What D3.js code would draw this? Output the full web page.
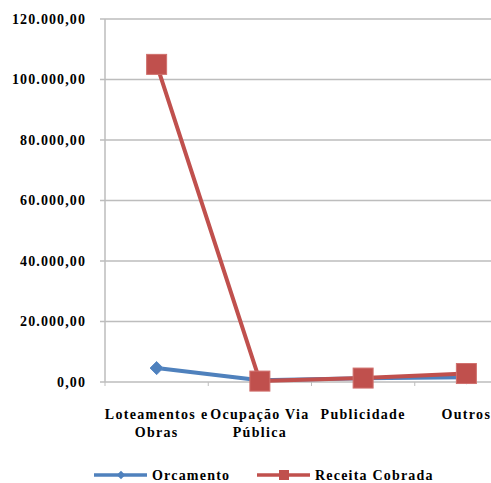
<!DOCTYPE html>
<html>
<head>
<meta charset="utf-8">
<script src="https://cdn.jsdelivr.net/npm/d3@7"></script>
<style>
  html, body { margin: 0; padding: 0; background: #ffffff; }
  svg { display: block; }
  svg text { font-family: "Liberation Serif", "DejaVu Serif Condensed", "DejaVu Serif", serif; font-weight: 700; }
</style>
</head>
<body>
<svg id="chart" width="491" height="483"></svg>
<script>
// Receitas por categoria: orçamento vs. receita cobrada
const categories = ["Loteamentos e Obras", "Ocupação Via Pública", "Publicidade", "Outros"];
const categoryLines = [["Loteamentos e", "Obras"], ["Ocupação Via", "Pública"], ["Publicidade"], ["Outros"]];
const orcamento = [4600, 600, 1200, 1600];
const receitaCobrada = [105000, 300, 1300, 2800];
const yTicks = [0, 20000, 40000, 60000, 80000, 100000, 120000];
const seriesNames = ["Orcamento", "Receita Cobrada"];
const seriesColors = ["#4f81bd", "#c0504d"];

const svg = d3.select("#chart");
const plot = { left: 105, right: 518, top: 19, bottom: 382 };

const x = d3.scaleBand().domain(categories).range([plot.left, plot.right]);
const y = d3.scaleLinear().domain([0, 120000]).range([plot.bottom, plot.top]);

const fmt = v => {
  const s = d3.format(",.2f")(v);
  return s.replace(/,/g, "#").replace(".", ",").replace(/#/g, ".");
};

// horizontal gridlines
svg.append("g").selectAll("line").data(yTicks).join("line")
  .attr("x1", plot.left - 5).attr("x2", plot.right)
  .attr("y1", d => y(d)).attr("y2", d => y(d))
  .attr("stroke", "#bdbdbd").attr("stroke-width", 1.5);

// value axis line
svg.append("line")
  .attr("x1", plot.left).attr("x2", plot.left)
  .attr("y1", y(120000)).attr("y2", plot.bottom)
  .attr("stroke", "#bdbdbd").attr("stroke-width", 1.5);

// category axis tick marks
svg.append("g").selectAll("line").data(categories).join("line")
  .attr("x1", d => x(d)).attr("x2", d => x(d))
  .attr("y1", plot.bottom).attr("y2", plot.bottom + 4)
  .attr("stroke", "#bdbdbd").attr("stroke-width", 1);

// y tick labels
svg.append("g").selectAll("text").data(yTicks).join("text")
  .attr("x", 86).attr("y", d => y(d)).attr("dy", "0.35em")
  .attr("text-anchor", "end")
  .attr("font-size", 14).attr("letter-spacing", 1.1)
  .attr("fill", "#000")
  .text(d => fmt(d));

// category labels
const catG = svg.append("g").selectAll("text").data(categories).join("text")
  .attr("text-anchor", "middle")
  .attr("font-size", 14).attr("letter-spacing", 1.3)
  .attr("fill", "#000");
catG.each(function(d, i) {
  const t = d3.select(this);
  categoryLines[i].forEach((ln, j) => {
    t.append("tspan")
      .attr("x", x(d) + x.bandwidth() / 2)
      .attr("y", 419 + j * 18)
      .text(ln);
  });
});

const cx = d => x(d) + x.bandwidth() / 2;
const line = d3.line().x((d, i) => cx(categories[i])).y(d => y(d));

// Orcamento series
svg.append("path").datum(orcamento)
  .attr("d", line).attr("fill", "none")
  .attr("stroke", seriesColors[0]).attr("stroke-width", 4)
  .attr("stroke-linejoin", "round");
svg.append("g").selectAll("path").data(orcamento).join("path")
  .attr("d", d3.symbol().type(d3.symbolDiamond2).size(110))
  .attr("transform", (d, i) => `translate(${cx(categories[i])},${y(d)})`)
  .attr("fill", seriesColors[0]).attr("stroke", "#5a8ac6").attr("stroke-width", 1);

// Receita Cobrada series
svg.append("path").datum(receitaCobrada)
  .attr("d", line).attr("fill", "none")
  .attr("stroke", seriesColors[1]).attr("stroke-width", 4)
  .attr("stroke-linejoin", "round");
svg.append("g").selectAll("rect").data(receitaCobrada).join("rect")
  .attr("x", (d, i) => cx(categories[i]) - 10)
  .attr("y", d => y(d) - 10)
  .attr("width", 20).attr("height", 20)
  .attr("fill", seriesColors[1]).attr("stroke", "#d0706d").attr("stroke-width", 1);

// legend
const legend = svg.append("g");
const legendItems = [
  { name: seriesNames[0], color: seriesColors[0], x0: 94, marker: "diamond" },
  { name: seriesNames[1], color: seriesColors[1], x0: 257, marker: "square" }
];
legendItems.forEach(it => {
  const ly = 475;
  legend.append("line")
    .attr("x1", it.x0).attr("x2", it.x0 + 53)
    .attr("y1", ly).attr("y2", ly)
    .attr("stroke", it.color).attr("stroke-width", 3.5);
  if (it.marker === "diamond") {
    legend.append("path")
      .attr("d", d3.symbol().type(d3.symbolDiamond2).size(45))
      .attr("transform", `translate(${it.x0 + 27},${ly})`)
      .attr("fill", it.color);
  } else {
    legend.append("rect")
      .attr("x", it.x0 + 22).attr("y", ly - 5)
      .attr("width", 10).attr("height", 10)
      .attr("fill", it.color);
  }
  legend.append("text")
    .attr("x", it.x0 + 58).attr("y", ly).attr("dy", "0.35em")
    .attr("font-size", 14).attr("letter-spacing", 1.2)
    .attr("fill", "#000")
    .text(it.name);
});
</script>
</body>
</html>
